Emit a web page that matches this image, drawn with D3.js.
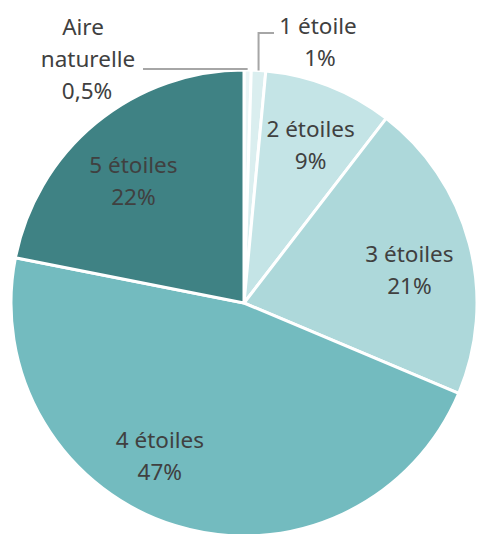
<!DOCTYPE html>
<html>
<head>
<meta charset="utf-8">
<script src="https://cdn.jsdelivr.net/npm/d3@7"></script>
<style>
  body { margin: 0; background: #fff; }
  text { font-family: "Noto Sans", sans-serif; font-size: 22.5px; fill: #404040; }
</style>
</head>
<body>
<div id="chart"></div>
<script>
const categories = ["Aire naturelle", "1 étoile", "2 étoiles", "3 étoiles", "4 étoiles", "5 étoiles"]
const values = [0.5, 1, 9, 21, 47, 22]
const valueLabels = ["0,5%", "1%", "9%", "21%", "47%", "22%"]
const colours = ["#EAF5F6", "#DAEEEF", "#C4E4E6", "#ADD8DA", "#73BBBF", "#3F8284"]

const width = 478
const height = 534
const cx = 244, cy = 303, radius = 233

const data = categories.map((c, i) => ({ name: c, value: values[i], label: valueLabels[i] }))

const svg = d3.select("#chart").append("svg").attr("width", width).attr("height", height)
const g = svg.append("g").attr("transform", `translate(${cx}, ${cy})`)

const pie = d3.pie().sort(null).value(d => d.value)
const arc = d3.arc().innerRadius(0).outerRadius(radius)
const labelArc = d3.arc().innerRadius(168).outerRadius(168)

const color = d3.scaleOrdinal().domain(categories).range(colours)
const arcs = pie(data)

g.selectAll("path").data(arcs).enter().append("path")
    .attr("d", arc)
    .attr("fill", d => color(d.data.name))
    .attr("stroke", "#fff")
    .attr("stroke-width", 3)
    .attr("stroke-linejoin", "round")

// inside labels, nudged a bit like Excel's best fit
const nudge = {
    "2 étoiles": [5, -3],
    "3 étoiles": [3, 9],
    "4 étoiles": [-35, -9],
    "5 étoiles": [-4, 7]
}
const inside = arcs.filter(d => d.data.value >= 5)
inside.forEach(d => {
    const [x, y] = labelArc.centroid(d)
    const n = nudge[d.data.name] || [0, 0]
    const t = g.append("text").attr("text-anchor", "middle")
        .attr("transform", `translate(${x + n[0]}, ${y + n[1]})`)
    t.append("tspan").attr("x", 0).attr("y", -7).text(d.data.name)
    t.append("tspan").attr("x", 0).attr("y", 25).text(d.data.label)
})

// outside labels with leader lines
const mid = d => (d.startAngle + d.endAngle) / 2
const edge = d => [Math.sin(mid(d)) * radius, -Math.cos(mid(d)) * radius]

const aire = arcs[0]
const pA = edge(aire)
g.append("polyline")
    .attr("points", [[pA[0], pA[1] - 1], [143 - cx, pA[1] - 1]].map(p => p.join(",")).join(" "))
    .attr("fill", "none").attr("stroke", "#A6A6A6").attr("stroke-width", 2)
const tA = g.append("text").attr("text-anchor", "middle")
    .attr("transform", `translate(${87 - cx}, 0)`)
tA.append("tspan").attr("x", -4).attr("y", 35 - cy).text("Aire")
tA.append("tspan").attr("x", 1).attr("y", 67 - cy).text("naturelle")
tA.append("tspan").attr("x", 0).attr("y", 99 - cy).text(aire.data.label)

const one = arcs[1]
const p1 = edge(one)
g.append("polyline")
    .attr("points", [[p1[0], p1[1]], [p1[0], 33 - cy], [274 - cx, 33 - cy]].map(p => p.join(",")).join(" "))
    .attr("fill", "none").attr("stroke", "#A6A6A6").attr("stroke-width", 2)
const t1 = g.append("text").attr("text-anchor", "middle")
    .attr("transform", `translate(${318 - cx}, 0)`)
t1.append("tspan").attr("x", 0).attr("y", 34 - cy).text(one.data.name)
t1.append("tspan").attr("x", 2).attr("y", 66 - cy).text(one.data.label)
</script>
</body>
</html>
